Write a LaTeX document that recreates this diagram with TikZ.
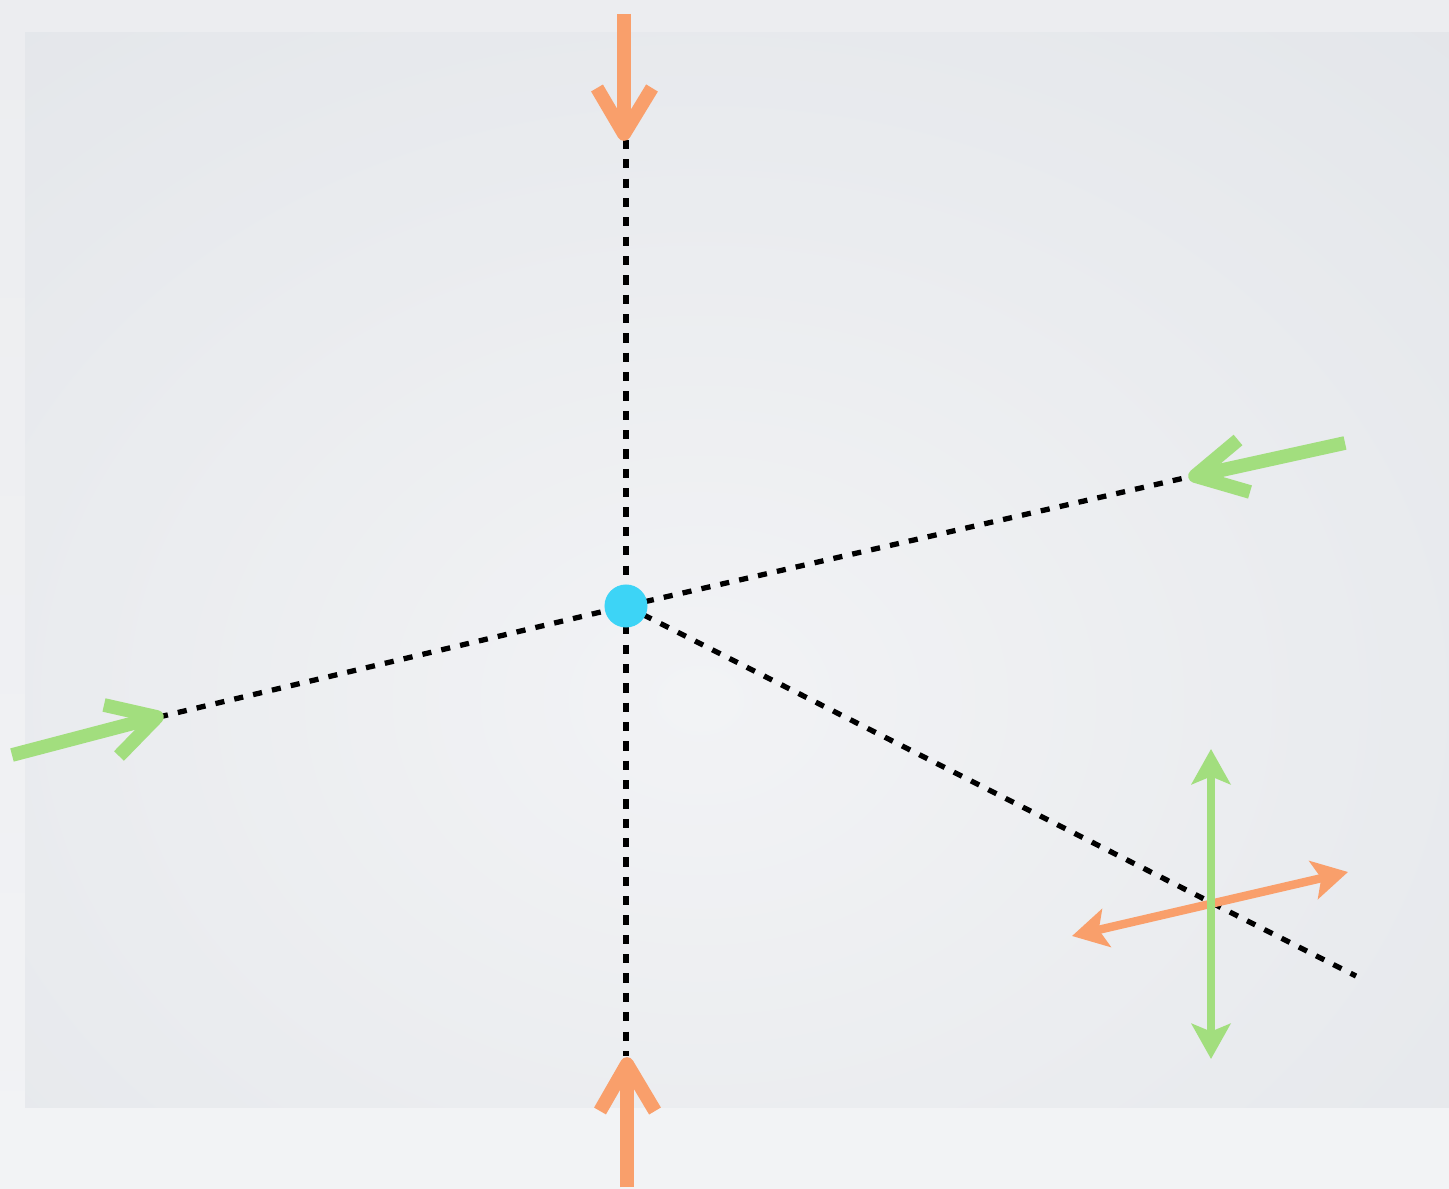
\documentclass[tikz,border=0pt]{standalone}
\usetikzlibrary{arrows.meta}

\definecolor{arrowOrange}{HTML}{F99F6B}
\definecolor{arrowGreen}{HTML}{A2DE7E}
\definecolor{dotCyan}{HTML}{3DD4F6}
\definecolor{pageTop}{HTML}{ECEDF0}
\definecolor{pageBottom}{HTML}{F2F3F5}
\definecolor{panelIn}{HTML}{F2F3F5}
\definecolor{panelOut}{HTML}{D6DAE0}

\begin{document}
\begin{tikzpicture}[x=0.01cm,y=-0.01cm,
  axisline/.style={line width=1.5pt, dash pattern=on 2.6pt off 2.9pt},
  bigshaft/.style={line width=3.9pt},
  openhead/.style={line width=3.9pt, line join=round, line cap=butt},
  crossarrow/.style={line width=2.4pt, {Stealth[length=10pt,width=11pt,inset=2.2pt]}-{Stealth[length=10pt,width=11pt,inset=2.2pt]}},
  hub/.style={circle, fill=dotCyan, minimum size=0.43cm, inner sep=0pt},
]
% page and panel
\useasboundingbox (0,0) rectangle (1449,1189);
\fill[top color=pageTop, bottom color=pageBottom] (0,0) rectangle (1449,1189);
\begin{scope}
  \clip (25,33) rectangle (1449,1107);
  % soft glow: light centre, darker edges and corners
  \shade[inner color=panelIn, outer color=panelOut] (700,700) ellipse (2200 and 1750);
\end{scope}

% key points
\coordinate (c) at (626,606);
\coordinate (upEnd) at (626,140);
\coordinate (downEnd) at (626,1056);
\coordinate (leftEnd) at (159,717);
\coordinate (rightEnd) at (1193,476);
\coordinate (diagEnd) at (1356,976);

% dotted axes through the hub
\draw[axisline] (upEnd) -- (c);
\draw[axisline] (c) -- (downEnd);
\draw[axisline] (leftEnd) -- (c);
\draw[axisline] (c) -- (rightEnd);
\draw[axisline] (c) -- (diagEnd);

\node[hub] (hubdot) at (c) {};

% top orange arrow
\coordinate (topTail) at (624,14);
\coordinate (topTip) at (624,134);
\coordinate (topArmL) at (597,88);
\coordinate (topArmR) at (652,88);
\draw[bigshaft, arrowOrange] (topTail) -- ([yshift=0.05cm]topTip);
\draw[openhead, arrowOrange] (topArmL) -- (topTip) -- (topArmR);

% bottom orange arrow
\coordinate (botTail) at (627,1187);
\coordinate (botTip) at (627,1064);
\coordinate (botArmL) at (600,1111);
\coordinate (botArmR) at (655,1111);
\draw[bigshaft, arrowOrange] (botTail) -- ([yshift=-0.05cm]botTip);
\draw[openhead, arrowOrange] (botArmL) -- (botTip) -- (botArmR);

% left green arrow
\coordinate (lTail) at (12,755);
\coordinate (lTip) at (157,717);
\coordinate (lArmA) at (104,705);
\coordinate (lArmB) at (119,756);
\draw[bigshaft, arrowGreen] (lTail) -- (lTip);
\draw[openhead, arrowGreen] (lArmA) -- (lTip) -- (lArmB);

% right green arrow
\coordinate (rTail) at (1345,443);
\coordinate (rTip) at (1195,476);
\coordinate (rArmA) at (1238,440);
\coordinate (rArmB) at (1250,492);
\draw[bigshaft, arrowGreen] (rTail) -- (rTip);
\draw[openhead, arrowGreen] (rArmA) -- (rTip) -- (rArmB);

% cross of double arrows on the diagonal axis
\coordinate (oLeft) at (1072,936);
\coordinate (oRight) at (1348,872);
\coordinate (gTop) at (1211,749);
\coordinate (gBot) at (1211,1059);
\draw[crossarrow, arrowOrange] (oLeft) -- (oRight);
\draw[crossarrow, arrowGreen] (gTop) -- (gBot);
\end{tikzpicture}
\end{document}
